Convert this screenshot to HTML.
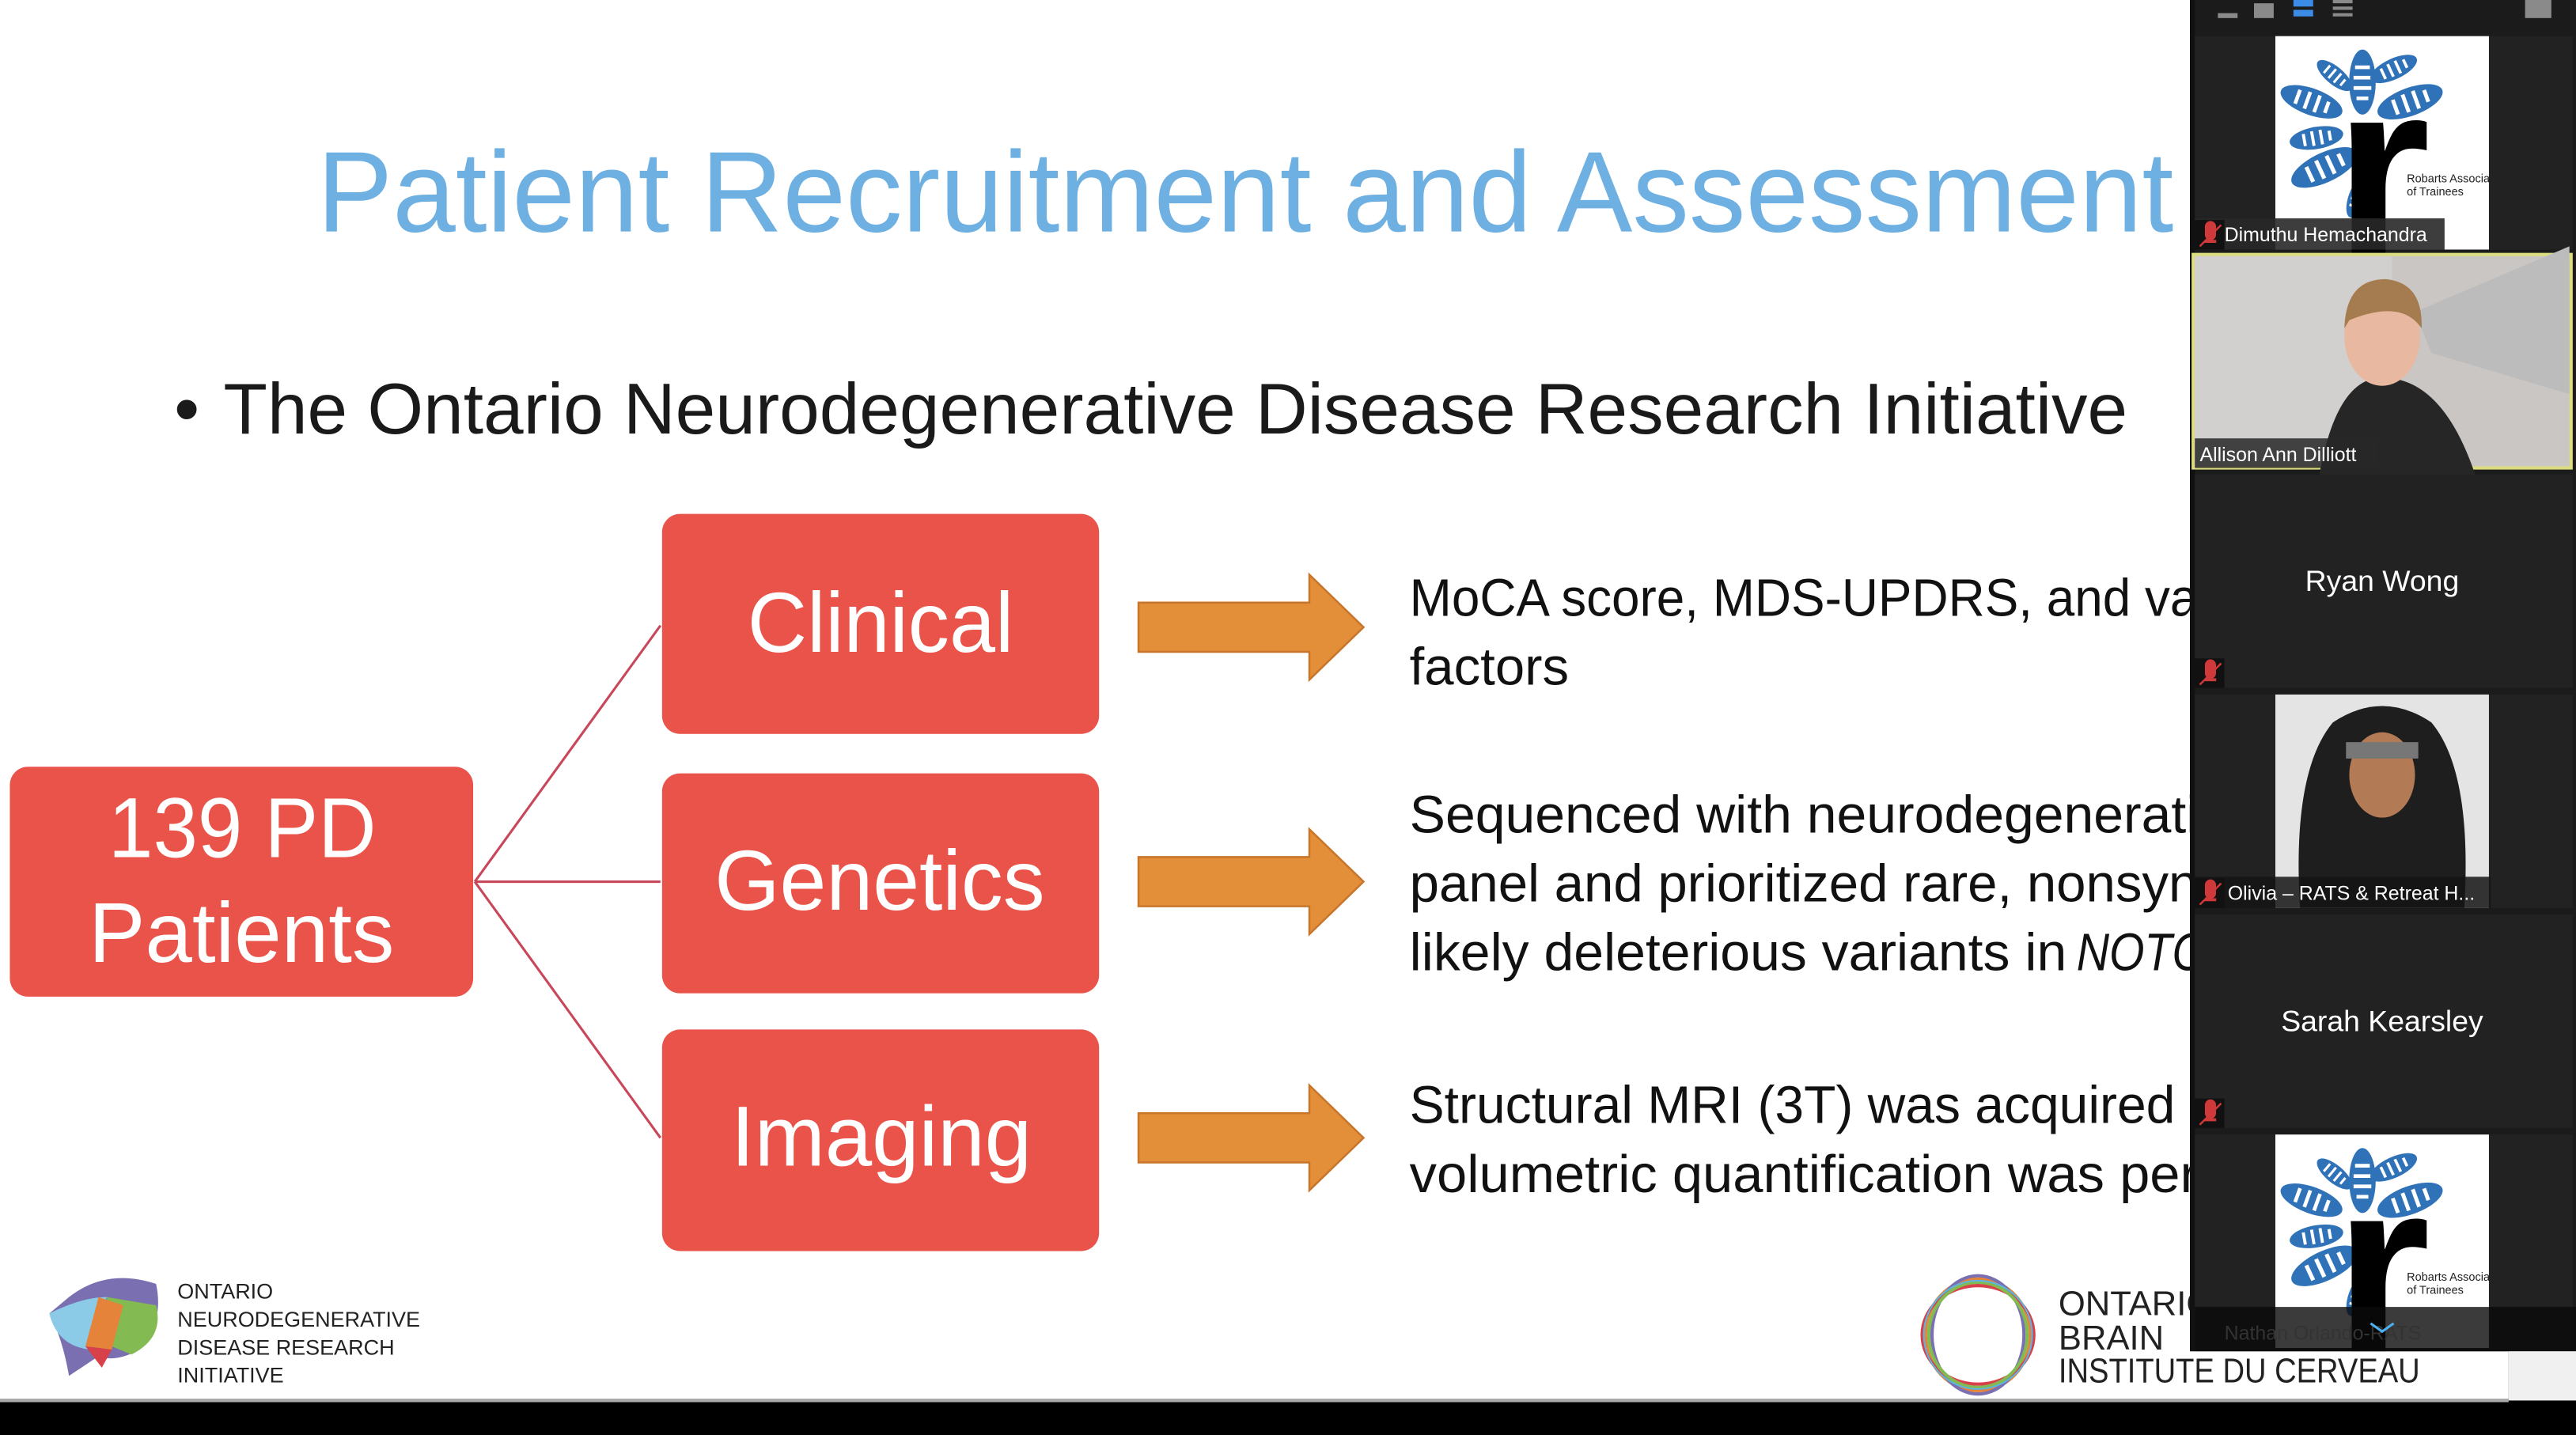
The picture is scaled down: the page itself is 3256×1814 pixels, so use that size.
<!DOCTYPE html>
<html><head><meta charset="utf-8"><style>
html,body{margin:0;padding:0;background:#000;overflow:hidden}
svg{display:block}
text{font-family:"Liberation Sans",sans-serif}
</style></head><body>
<svg width="3256" height="1814" viewBox="0 0 1568 874" preserveAspectRatio="none" xmlns="http://www.w3.org/2000/svg">
<defs>
<g id="leaf"><ellipse cx="0" cy="0" rx="22" ry="9" fill="#2f72b8"/><g stroke="#fff" stroke-width="2.5"><line x1="-10" y1="-5" x2="-10" y2="5"/><line x1="-3" y1="-6" x2="-3" y2="6"/><line x1="4" y1="-6" x2="4" y2="6"/><line x1="11" y1="-4" x2="11" y2="4"/></g></g>
<g id="rats">
<rect x="0" y="0" width="130" height="130" fill="#fff"/>
<use href="#leaf" transform="translate(22,40) rotate(20) scale(0.9)"/>
<use href="#leaf" transform="translate(36,24) rotate(40) scale(0.6)"/>
<use href="#leaf" transform="translate(53,28) rotate(90) scale(0.9)"/>
<use href="#leaf" transform="translate(72,20) rotate(-25) scale(0.7)"/>
<use href="#leaf" transform="translate(82,40) rotate(-20) scale(0.95)"/>
<use href="#leaf" transform="translate(25,62) rotate(-10) scale(0.75)"/>
<use href="#leaf" transform="translate(30,80) rotate(-25) scale(1)"/>
<use href="#leaf" transform="translate(50,98) rotate(-70) scale(0.6)"/>
<text x="36" y="132" font-family="Liberation Serif,serif" font-size="150" font-weight="bold" fill="#000">r</text>
<text x="80" y="89" font-family="Liberation Serif,serif" font-size="7" fill="#222">Robarts Association</text>
<text x="80" y="97" font-family="Liberation Serif,serif" font-size="7" fill="#222">of Trainees</text>
</g>
<g id="mic"><rect x="0" y="0" width="18" height="18" fill="#111"/><path d="M7 4 a2.5 2.5 0 0 1 5 0 v5 a2.5 2.5 0 0 1 -5 0z M6 13 h7" stroke="#d0393a" stroke-width="1.8" fill="#d0393a"/><line x1="3" y1="16" x2="16" y2="3" stroke="#d0393a" stroke-width="1.2"/></g>
</defs>
<rect x="0" y="0" width="1568" height="874" fill="#000"/>
<rect x="0" y="0" width="1527" height="852" fill="#fff"/>
<rect x="0" y="852" width="1527" height="2" fill="#aaa"/>

<text x="193" y="141" font-size="70" fill="#6fb0e2" textLength="1130" lengthAdjust="spacingAndGlyphs">Patient Recruitment and Assessment</text>
<text x="106" y="264" font-size="44" fill="#1a1a1a">•</text>
<text x="136" y="264" font-size="44" fill="#1a1a1a" textLength="1159" lengthAdjust="spacingAndGlyphs">The Ontario Neurodegenerative Disease Research Initiative</text>

<g stroke="#c9475a" stroke-width="1.5" fill="none">
<line x1="289" y1="537" x2="402" y2="381"/><line x1="289" y1="537" x2="402" y2="537"/><line x1="289" y1="537" x2="402" y2="693"/>
</g>
<g fill="#ea534a">
<rect x="6" y="467" width="282" height="140" rx="11"/>
<rect x="403" y="313" width="266" height="134" rx="11"/>
<rect x="403" y="471" width="266" height="134" rx="11"/>
<rect x="403" y="627" width="266" height="135" rx="11"/>
</g>
<g fill="#fff" font-size="52">
<text x="66" y="522" textLength="163" lengthAdjust="spacingAndGlyphs">139 PD</text>
<text x="54" y="586" textLength="186" lengthAdjust="spacingAndGlyphs">Patients</text>
<text x="455" y="397" textLength="162" lengthAdjust="spacingAndGlyphs">Clinical</text>
<text x="435" y="554" textLength="201" lengthAdjust="spacingAndGlyphs">Genetics</text>
<text x="445" y="710" textLength="183" lengthAdjust="spacingAndGlyphs">Imaging</text>
</g>
<g fill="#e38e39" stroke="#c7752a" stroke-width="1.2">
<path d="M693 367 H797 V350 L830 382 L797 414 V397 H693Z"/>
<path d="M693 522 H797 V505 L830 537 L797 569 V552 H693Z"/>
<path d="M693 678 H797 V661 L830 693 L797 725 V708 H693Z"/>
</g>
<g fill="#111" font-size="32">
<text x="858" y="375" textLength="480" lengthAdjust="spacingAndGlyphs">MoCA score, MDS-UPDRS, and va</text>
<text x="858" y="417" textLength="97" lengthAdjust="spacingAndGlyphs">factors</text>
<text x="858" y="507" textLength="480" lengthAdjust="spacingAndGlyphs">Sequenced with neurodegenerati</text>
<text x="858" y="549" textLength="480" lengthAdjust="spacingAndGlyphs">panel and prioritized rare, nonsyn</text>
<text x="858" y="591" textLength="400" lengthAdjust="spacingAndGlyphs">likely deleterious variants in</text>
<text x="1264" y="591" font-style="italic" textLength="78" lengthAdjust="spacingAndGlyphs">NOTC</text>
<text x="858" y="684" textLength="466" lengthAdjust="spacingAndGlyphs">Structural MRI (3T) was acquired</text>
<text x="858" y="726" textLength="480" lengthAdjust="spacingAndGlyphs">volumetric quantification was per</text>
</g>

<path d="M42 790 Q65 772 95 782 Q100 805 85 822 Q70 830 60 826 L42 838 Q38 815 30 800Z" fill="#7a6fb0"/>
<path d="M30 800 Q50 790 65 790 L55 822 Q35 820 30 800Z" fill="#8ccbe8"/>
<path d="M65 790 L95 795 Q100 815 80 825 L68 820Z" fill="#83bb52"/>
<path d="M60 790 L75 795 L68 822 L52 820Z" fill="#e5833a"/>
<path d="M52 820 L68 822 L62 833Z" fill="#d8404a"/>
<g fill="#222" font-size="13">
<text x="108" y="791">ONTARIO</text><text x="108" y="808">NEURODEGENERATIVE</text><text x="108" y="825">DISEASE RESEARCH</text><text x="108" y="842">INITIATIVE</text>
</g>
<g fill="none" stroke-width="2">
<ellipse cx="1204" cy="813" rx="32" ry="34" stroke="#e5833a"/>
<ellipse cx="1204" cy="813" rx="28" ry="36" stroke="#7a6fb0"/>
<ellipse cx="1204" cy="813" rx="34" ry="30" stroke="#d8404a"/>
<ellipse cx="1204" cy="813" rx="30" ry="32" stroke="#83bb52"/>
<ellipse cx="1204" cy="813" rx="33" ry="33" stroke="#5bb5e0" stroke-width="1"/>
</g>
<g fill="#222" font-size="21">
<text x="1253" y="801">ONTARIO</text><text x="1253" y="822">BRAIN</text><text x="1253" y="842" textLength="220" lengthAdjust="spacingAndGlyphs">INSTITUTE  DU CERVEAU</text>
</g>

<rect x="1333" y="0" width="235" height="823" fill="#1b1b1b"/>
<rect x="1333" y="0" width="3" height="823" fill="#111"/>
<g fill="#8a8a8a">
<rect x="1350" y="8" width="12" height="3"/><rect x="1372" y="2" width="12" height="9"/>
<rect x="1420" y="0" width="12" height="2"/><rect x="1420" y="4" width="12" height="2"/><rect x="1420" y="8" width="12" height="2"/>
<rect x="1537" y="0" width="16" height="11"/>
</g>
<rect x="1396" y="0" width="12" height="4" fill="#3c8ce7"/><rect x="1396" y="6" width="12" height="4" fill="#3c8ce7"/>

<rect x="1336" y="22" width="230" height="130" fill="#222"/>
<use href="#rats" x="1385" y="22"/>
<rect x="1336" y="133" width="152" height="19" fill="rgba(40,40,40,0.9)"/>
<use href="#mic" x="1336" y="134"/>
<text x="1354" y="147" font-size="12" fill="#fff">Dimuthu Hemachandra</text>

<rect x="1334" y="154" width="232" height="132" fill="#dcdc80"/>
<rect x="1336" y="156" width="228" height="128" fill="#c9c6c3"/>
<rect x="1336" y="156" width="120" height="128" fill="#d2d0ce"/>
<path d="M1470 190 L1564 150 V240 L1480 215Z" fill="#bdbcbc"/>
<path d="M1410 300 Q1420 230 1450 230 Q1490 230 1510 300Z" fill="#262626"/>
<ellipse cx="1450" cy="205" rx="23" ry="30" fill="#e8b9a0"/>
<path d="M1427 200 Q1428 170 1452 170 Q1475 172 1474 200 Q1462 182 1430 195Z" fill="#a57c4f"/>
<rect x="1336" y="267" width="112" height="18" fill="rgba(40,40,40,0.85)"/>
<text x="1339" y="281" font-size="12" fill="#fff">Allison Ann Dilliott</text>

<rect x="1336" y="289" width="230" height="130" fill="#222"/>
<text x="1450" y="360" font-size="18" fill="#fff" text-anchor="middle">Ryan Wong</text>
<use href="#mic" x="1336" y="401"/>

<rect x="1336" y="423" width="230" height="130" fill="#222"/>
<rect x="1385" y="423" width="130" height="130" fill="#e4e4e4"/>
<path d="M1400 553 Q1395 470 1420 440 Q1450 420 1480 440 Q1505 470 1500 553Z" fill="#1e1e1e"/>
<ellipse cx="1450" cy="472" rx="20" ry="26" fill="#b27a55"/>
<rect x="1428" y="452" width="44" height="10" fill="#777"/>
<rect x="1336" y="534" width="180" height="19" fill="rgba(20,20,20,0.85)"/>
<use href="#mic" x="1336" y="535"/>
<text x="1356" y="548" font-size="12" fill="#fff">Olivia  – RATS &amp; Retreat H...</text>

<rect x="1336" y="557" width="230" height="130" fill="#222"/>
<text x="1450" y="628" font-size="18" fill="#fff" text-anchor="middle">Sarah Kearsley</text>
<use href="#mic" x="1336" y="669"/>

<rect x="1336" y="691" width="230" height="132" fill="#222"/>
<use href="#rats" x="1385" y="691"/>
<rect x="1336" y="796" width="232" height="27" fill="rgba(10,10,10,0.8)"/>
<text x="1354" y="816" font-size="12" fill="#333">Nathan Orlando-RATS</text>
<path d="M1443 806 L1450 811 L1457 806" stroke="#4db0f0" stroke-width="1.5" fill="none"/>
<rect x="1527" y="823" width="41" height="30" fill="#f0f0f0"/>
</svg>
</body></html>
